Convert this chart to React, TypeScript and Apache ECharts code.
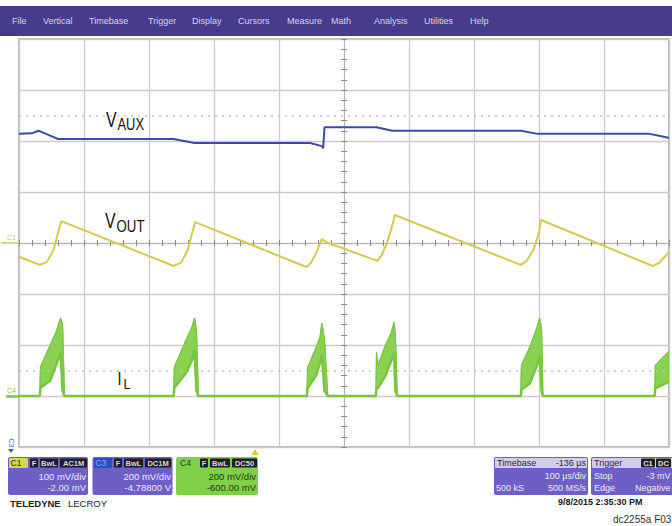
import React, { useEffect, useRef } from "react";
import * as echarts from "echarts";

// ---------- data (time in µs, amplitude in screen divisions) ----------
const menuItems = ["File", "Vertical", "Timebase", "Trigger", "Display", "Cursors", "Measure", "Math", "Analysis", "Utilities", "Help"];
const menuX = [12, 43, 89, 148, 192, 238, 287, 331, 374, 424, 470];

const vauxTime = [-500, -480, -470, -462, -440, -262, -230, -52, -34, -32, -30, 50, 74, 272, 298, 470, 494, 500];
const vauxDiv = [2.14, 2.15, 2.2, 2.16, 2.04, 2.04, 1.96, 1.96, 1.9, 1.86, 2.27, 2.27, 2.2, 2.2, 2.14, 2.14, 2.08, 2.06];

const voutTime = [-500, -468, -457, -447, -442, -438, -435,
  -262, -251, -241, -236, -232, -229,
  -58, -51, -43, -38, -34, -28,
  51, 58, 66, 71, 76, 78,
  272, 281, 292, 297, 301, 303,
  475, 485, 492, 500];
const voutDiv = [-0.27, -0.43, -0.37, -0.14, 0.1, 0.29, 0.43,
  -0.45, -0.39, -0.16, 0.08, 0.27, 0.41,
  -0.47, -0.39, -0.2, -0.04, 0.08, 0.02,
  -0.35, -0.24, 0, 0.2, 0.42, 0.55,
  -0.43, -0.35, -0.12, 0.08, 0.27, 0.45,
  -0.45, -0.39, -0.29, -0.18];

const ilTime = [-500,
  -468, -467, -452, -443, -436, -433, -430,
  -262, -261, -243, -234, -230, -227, -224,
  -57, -56, -43, -37, -34, -30, -25,
  49, 50, 52, 64, 73, 77, 79, 82,
  272, 273, 286, 297, 301, 304, 306,
  478, 479, 500];
const ilUpper = [-3,
  -3, -2.43, -2.0, -1.75, -1.47, -1.6, -3,
  -3, -2.43, -1.9, -1.65, -1.47, -1.7, -3,
  -3, -2.45, -2.05, -1.85, -1.57, -1.9, -3,
  -3, -2.14, -2.4, -2.0, -1.75, -1.55, -1.8, -3,
  -3, -2.39, -2.04, -1.65, -1.47, -1.7, -3,
  -3, -2.4, -2.12];
const ilLower = [-3,
  -3, -2.84, -2.7, -2.4, -2.15, -2.9, -3,
  -3, -2.84, -2.55, -2.3, -2.1, -2.9, -3,
  -3, -2.85, -2.6, -2.35, -2.2, -2.9, -3,
  -3, -2.85, -2.85, -2.6, -2.3, -2.15, -2.9, -3,
  -3, -2.88, -2.75, -2.4, -2.2, -2.9, -3,
  -3, -2.85, -2.72];

const refLevels = [2.5, -2.5];

const c1Lines = ["100 mV/div", "-2.00 mV"];
const c3Lines = ["200 mV/div", "-4.78800 V"];
const c4Lines = ["200 mV/div", "-600.00 mV"];
const c1Tags = ["F", "BwL", "AC1M"];
const c3Tags = ["F", "BwL", "DC1M"];
const c4Tags = ["F", "BwL", "DC50"];
const timebaseHeader = ["Timebase", "-136 µs"];
const timebaseRows = [["", "100 µs/div"], ["500 kS", "500 MS/s"]];
const triggerRows = [["Stop", "-3 mV"], ["Edge", "Negative"]];
const dateText = "9/8/2015 2:35:30 PM";
const figId = "dc2255a F03";

const FONT = "Liberation Sans, Arial, sans-serif";
const PURPLE = "#6e5fc6";
const BOXTXT = "#eceafb";

function zip(a: number[], b: number[]) {
  return a.map((v, i) => [v, b[i]]);
}

function txt(x: number, y: number, text: string, o: any = {}) {
  return {
    type: "text",
    x,
    y,
    silent: true,
    z: 100,
    rotation: o.rotation || 0,
    scaleX: o.scaleX || 1,
    style: {
      text,
      fill: o.fill || "#222",
      fontSize: o.size || 9,
      fontFamily: o.family || FONT,
      fontWeight: o.weight || "normal",
      align: o.align || "left",
      verticalAlign: o.va || "middle",
    },
  };
}

function rect(x: number, y: number, w: number, h: number, fill: string, r = 0) {
  return { type: "rect", silent: true, z: 90, shape: { x, y, width: w, height: h, r }, style: { fill } };
}

function tagRow(xs: number[], ws: number[], labels: string[], y: number) {
  const out: any[] = [];
  labels.forEach((l, i) => {
    out.push(rect(xs[i], y, ws[i], 9, "#1f1d26", 1));
    out.push(txt(xs[i] + ws[i] / 2, y + 4.8, l, { fill: "#d8d8d8", size: 7.5, align: "center", weight: "bold" }));
  });
  return out;
}

function buildGraphic() {
  const g: any[] = [];
  // menu bar
  g.push(rect(0, 6, 672, 30, "#473c8b"));
  menuItems.forEach((m, i) => g.push(txt(menuX[i], 21, m, { fill: "#d6d4ea", size: 9 })));

  // waveform labels (condensed look via horizontal scaling)
  g.push(txt(106, 120, "V", { size: 22, fill: "#111", scaleX: 0.72 }));
  g.push(txt(117.5, 124, "AUX", { size: 17, fill: "#111", scaleX: 0.76 }));
  g.push(txt(105, 221, "V", { size: 22, fill: "#111", scaleX: 0.72 }));
  g.push(txt(116.5, 226, "OUT", { size: 17, fill: "#111", scaleX: 0.78 }));
  g.push(txt(117.5, 378, "I", { size: 18, fill: "#111", scaleX: 0.8 }));
  g.push(txt(123.5, 384, "L", { size: 15, fill: "#111", scaleX: 0.85 }));

  // channel markers on the left
  g.push({ type: "line", silent: true, z: 95, shape: { x1: 1, y1: 243, x2: 19, y2: 243 }, style: { stroke: "#d2c862", lineWidth: 1.5 } });
  g.push(txt(7, 237, "C1", { fill: "#c8bf40", size: 7 }));
  g.push({ type: "line", silent: true, z: 95, shape: { x1: 6, y1: 396.5, x2: 19, y2: 396.5 }, style: { stroke: "#7cc744", lineWidth: 2.5 } });
  g.push(txt(7, 390, "C4", { fill: "#7cc744", size: 7 }));
  g.push(txt(11, 443, "C3", { fill: "#4a5fb8", size: 7, rotation: -Math.PI / 2, align: "center" }));
  g.push({ type: "polygon", silent: true, z: 95, shape: { points: [[8, 449], [14, 449], [11, 453]] }, style: { fill: "#4a5fb8" } });

  // trigger position marker
  g.push({ type: "polygon", silent: true, z: 95, shape: { points: [[251.5, 455], [258.5, 455], [255, 449]] }, style: { fill: "#e0c830" } });

  // C1 box
  g.push(rect(8, 457, 80, 38, PURPLE, 2));
  g.push(rect(9, 458, 19, 10, "#d9d455", 1));
  g.push(txt(10.5, 463.3, "C1", { fill: "#2a2a20", size: 8.5 }));
  g.push(...tagRow([30, 40, 60], [8, 18, 27], c1Tags, 458.5));
  g.push(txt(86, 476, c1Lines[0], { fill: BOXTXT, size: 9.5, align: "right" }));
  g.push(txt(86, 487.5, c1Lines[1], { fill: BOXTXT, size: 9.5, align: "right" }));

  // C3 box
  g.push(rect(92.5, 457, 80, 38, PURPLE, 2));
  g.push(rect(94, 458, 18, 10, "#2e4fc4", 1));
  g.push(txt(95.5, 463.3, "C3", { fill: "#8aa6ff", size: 8.5 }));
  g.push(...tagRow([114, 124, 145], [8, 19, 26], c3Tags, 458.5));
  g.push(txt(171, 476, c3Lines[0], { fill: BOXTXT, size: 9.5, align: "right" }));
  g.push(txt(171, 487.5, c3Lines[1], { fill: BOXTXT, size: 9.5, align: "right" }));

  // C4 box
  g.push(rect(176, 457, 82, 38, "#80cf46", 2));
  g.push(txt(180, 463.3, "C4", { fill: "#1d3b0f", size: 8.5 }));
  g.push(...tagRow([200, 210, 232], [8, 20, 25], c4Tags, 458.5));
  g.push(txt(256, 476, c4Lines[0], { fill: "#1d3b0f", size: 9.5, align: "right" }));
  g.push(txt(256, 487.5, c4Lines[1], { fill: "#1d3b0f", size: 9.5, align: "right" }));

  // brand
  g.push(txt(10, 503, "TELEDYNE", { fill: "#1a1a1a", size: 9.5, weight: "bold" }));
  g.push(txt(68, 503, "LECROY", { fill: "#1a1a1a", size: 9.5 }));

  // Timebase box
  g.push(rect(494, 457, 94, 38, PURPLE, 2));
  g.push(rect(495, 458, 92, 10, "#d2cdee", 1));
  g.push(txt(497, 463.3, timebaseHeader[0], { fill: "#2a2550", size: 9 }));
  g.push(txt(586, 463.3, timebaseHeader[1], { fill: "#2a2550", size: 9, align: "right" }));
  timebaseRows.forEach((r, i) => {
    const y = 476 + i * 11.5;
    if (r[0]) g.push(txt(496, y, r[0], { fill: BOXTXT, size: 9 }));
    g.push(txt(586, y, r[1], { fill: BOXTXT, size: 9, align: "right" }));
  });

  // Trigger box
  g.push(rect(591, 457, 90, 38, PURPLE, 2));
  g.push(rect(592, 458, 88, 10, "#d2cdee", 1));
  g.push(txt(594, 463.3, "Trigger", { fill: "#2a2550", size: 9 }));
  g.push(rect(641, 458.5, 14, 9, "#1f1d26", 1));
  g.push(txt(648, 463.3, "C1", { fill: "#e0e0e0", size: 7.5, align: "center", weight: "bold" }));
  g.push(rect(656, 458.5, 15, 9, "#1f1d26", 1));
  g.push(txt(663.5, 463.3, "DC", { fill: "#e0e0e0", size: 7.5, align: "center", weight: "bold" }));
  triggerRows.forEach((r, i) => {
    const y = 476 + i * 11.5;
    g.push(txt(594, y, r[0], { fill: BOXTXT, size: 9 }));
    g.push(txt(670.5, y, r[1], { fill: BOXTXT, size: 9, align: "right" }));
  });

  g.push(txt(558, 502, dateText, { fill: "#1a1a1a", size: 9, weight: "bold" }));
  g.push(txt(613, 519, figId, { fill: "#333", size: 10 }));
  return g;
}

const tickStyle = { color: "#8e8888", width: 1 };
const centerLine = { color: "#bcb4b4", width: 1 };

export default function App() {
  const ref = useRef<HTMLDivElement>(null);
  useEffect(() => {
    if (!ref.current) return;
    const chart = echarts.init(ref.current, undefined, { renderer: "svg" });
    const xBase = {
      type: "value",
      min: -500,
      max: 500,
      interval: 100,
      axisLabel: { show: false },
      axisLine: { show: true, onZero: true, onZeroAxisIndex: 0, lineStyle: centerLine },
      axisTick: { show: true, length: 3, lineStyle: tickStyle },
      minorTick: { show: true, splitNumber: 5, length: 3, lineStyle: tickStyle },
    };
    const yBase = {
      type: "value",
      min: -4,
      max: 4,
      interval: 1,
      axisLabel: { show: false },
      axisLine: { show: true, onZero: true, onZeroAxisIndex: 0, lineStyle: centerLine },
      axisTick: { show: true, length: 3, lineStyle: tickStyle },
      minorTick: { show: true, splitNumber: 5, length: 3, lineStyle: tickStyle },
    };
    const option: any = {
      animation: false,
      backgroundColor: "#ffffff",
      grid: {
        left: 19,
        top: 39,
        width: 650,
        height: 408,
        show: true,
        borderColor: "#aba3a3",
        borderWidth: 1.5,
        backgroundColor: "#ffffff",
      },
      xAxis: [
        { ...xBase, position: "bottom", splitLine: { show: true, lineStyle: { color: "#cfc8c8", width: 1.3 } } },
        { ...xBase, position: "top", splitLine: { show: false } },
      ],
      yAxis: [
        { ...yBase, position: "left", splitLine: { show: true, lineStyle: { color: "#cfc8c8", width: 1.3 } } },
        { ...yBase, position: "right", splitLine: { show: false } },
      ],
      series: [
        {
          name: "VAUX",
          type: "line",
          data: zip(vauxTime, vauxDiv),
          showSymbol: false,
          lineStyle: { color: "#3a4da2", width: 2 },
          z: 5,
          markLine: {
            silent: true,
            symbol: "none",
            label: { show: false },
            lineStyle: { color: "#c4c0c0", width: 1.5, type: [2, 5] },
            data: refLevels.map((v) => ({ yAxis: v })),
          },
        },
        {
          name: "VOUT",
          type: "line",
          data: zip(voutTime, voutDiv),
          showSymbol: false,
          lineStyle: { color: "#d5ca4c", width: 2 },
          z: 5,
        },
        {
          name: "IL band",
          type: "custom",
          data: [[0, -3]],
          encode: { x: 0, y: 1 },
          clip: true,
          z: 4,
          renderItem: (_p: any, api: any) => {
            const pts: number[][] = [];
            for (let i = 0; i < ilTime.length; i++) pts.push(api.coord([ilTime[i], ilUpper[i]]));
            for (let i = ilTime.length - 1; i >= 0; i--) pts.push(api.coord([ilTime[i], ilLower[i]]));
            return {
              type: "polygon",
              shape: { points: pts },
              style: { fill: "#8ad352", stroke: "#7cc744", lineWidth: 1 },
            };
          },
        },
        {
          name: "IL upper",
          type: "line",
          data: zip(ilTime, ilUpper),
          showSymbol: false,
          lineStyle: { color: "#7cc744", width: 1.2 },
          z: 5,
        },
        {
          name: "IL",
          type: "line",
          data: zip(ilTime, ilLower),
          showSymbol: false,
          lineStyle: { color: "#78c540", width: 2.5 },
          z: 5,
        },
      ],
      graphic: { elements: buildGraphic() },
    };
    chart.setOption(option);
    return () => chart.dispose();
  }, []);
  return (
    <div
      ref={ref}
      style={{ position: "fixed", left: 0, top: 0, width: 672, height: 526, background: "#fff" }}
    />
  );
}
